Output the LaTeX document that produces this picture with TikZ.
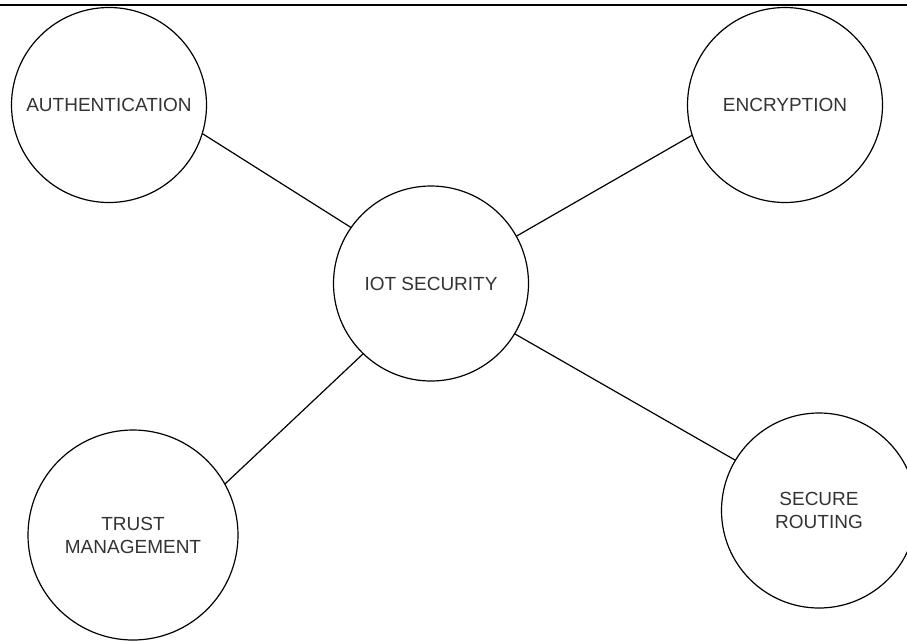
\documentclass[tikz,border=0pt]{standalone}
\usepackage{fontspec}
\setmainfont{Liberation Sans}
\definecolor{txt}{HTML}{333333}
\begin{document}
\begin{tikzpicture}[x=1pt,y=-1pt,
  topic/.style={circle,draw=black,line width=1.2pt,inner sep=0pt,outer sep=0pt,
    align=center,text=txt,font=\fontsize{19}{23}\selectfont},
  link/.style={draw=black,line width=1.2pt}]
\useasboundingbox (0,0) rectangle (907,641);
\fill[white] (0,0) rectangle (907,641);
\draw[line width=2.5pt] (0,5) -- (907,5);
\node[topic,minimum size=195pt] (auth) at (109,105) {AUTHENTICATION};
\node[topic,minimum size=195pt] (enc) at (785,105) {ENCRYPTION};
\node[topic,minimum size=195pt] (iot) at (431,283.5) {IOT SECURITY};
\node[topic,minimum size=210pt] (trust) at (133,535) {TRUST\\MANAGEMENT};
\node[topic,minimum size=195pt] (sec) at (819,510.5) {SECURE\\ROUTING};
\draw[link] (auth.-17) -- (iot.145);
\draw[link] (enc.198) -- (iot.29);
\draw[link] (trust.29) -- (iot.226);
\draw[link] (iot.-31) -- (sec.149);
\end{tikzpicture}
\end{document}
